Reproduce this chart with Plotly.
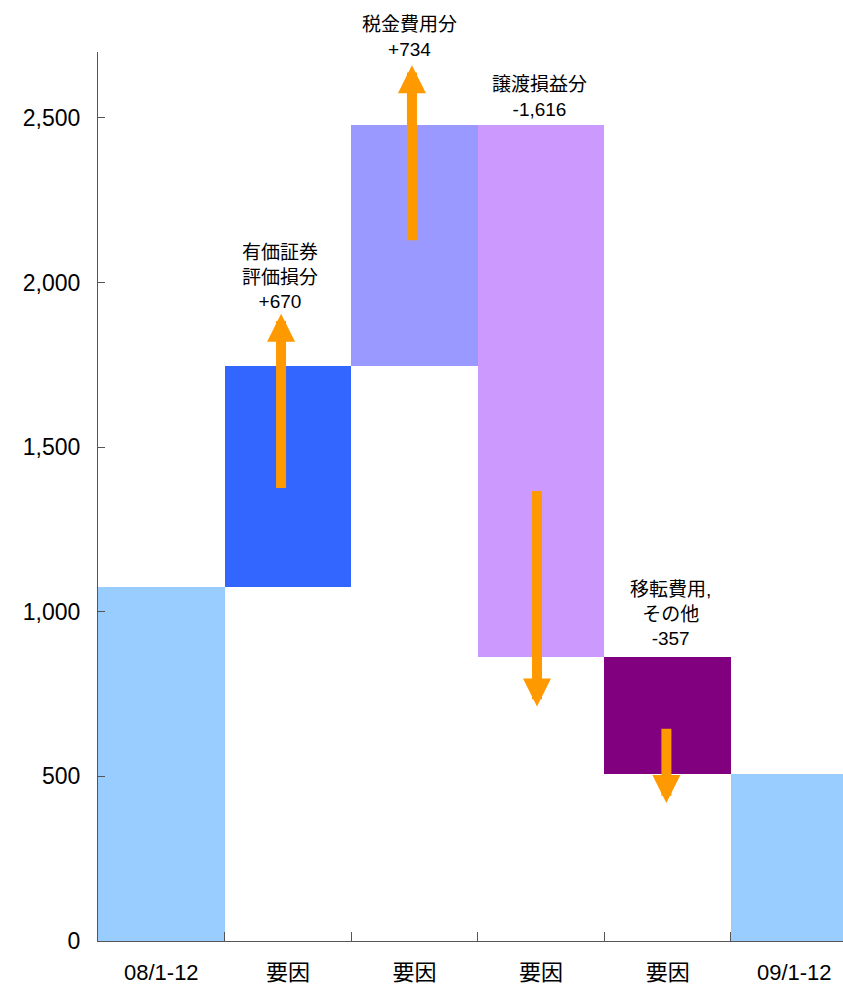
import plotly.graph_objects as go

# ---- data ----
categories = ["08/1-12", "要因", "要因", "要因", "要因", "09/1-12"]
start_value = 1075
changes = [670, 734, -1616, -357]
bar_colors = ["#99CCFF", "#3366FF", "#9999FF", "#CC99FF", "#800080", "#99CCFF"]
change_labels = ["有価証券<br>評価損分<br>+670", "税金費用分<br>+734", "譲渡損益分<br>-1,616", "移転費用,<br>その他<br>-357"]
y_tickvals = [0, 500, 1000, 1500, 2000, 2500]
y_ticktext = ["0", "500", "1,000", "1,500", "2,000", "2,500"]

# arrow positions (x index, tail y, tip y) and label anchors for each change
arrow_x = [0.946, 1.980, 2.968, 3.990]
arrow_tail = [1371, 2124, 1371, 649]
arrow_tip = [1905, 2660, 712, 419]
label_x = [0.94, 1.96, 2.99, 4.02]
label_y = [1905, 2670, 2488, 880]

# ---- build waterfall bars ----
bases = [0]
heights = [start_value]
level = start_value
for c in changes:
    bases.append(level)
    heights.append(c)
    level += c
bases.append(0)
heights.append(level)

xs = list(range(len(categories)))

fig = go.Figure()
fig.add_trace(go.Bar(
    x=xs, y=heights, base=bases, width=1,
    marker=dict(color=bar_colors, line=dict(width=0)),
    hoverinfo="skip", showlegend=False,
))

FONT = "Liberation Sans, Arial, Noto Sans CJK JP, sans-serif"

annotations = []
for i in range(len(changes)):
    annotations.append(dict(
        x=arrow_x[i], y=arrow_tip[i], ax=arrow_x[i], ay=arrow_tail[i],
        xref="x", yref="y", axref="x", ayref="y",
        text="", showarrow=True, arrowhead=2, arrowsize=0.56,
        arrowwidth=10, arrowcolor="#FF9900", standoff=0, startstandoff=0,
    ))
    annotations.append(dict(
        x=label_x[i], y=label_y[i], xref="x", yref="y",
        text=change_labels[i], showarrow=False, yanchor="bottom",
        xanchor="center", align="center",
        font=dict(family=FONT, size=19, color="#000000"),
    ))

fig.update_layout(
    width=843, height=987,
    margin=dict(l=98, r=0, t=52, b=46, autoexpand=False),
    paper_bgcolor="white", plot_bgcolor="white",
    annotations=annotations,
    bargap=0,
    xaxis=dict(
        range=[-0.5, 5.385], tickvals=xs, ticktext=categories, ticks="",
        showgrid=False, zeroline=False, showline=True, linecolor="#555555",
        linewidth=1, ticklabelstandoff=12, automargin=False,
        tickfont=dict(family=FONT, size=22, color="#000000"),
        minor=dict(tickvals=[0.5, 1.5, 2.5, 3.5, 4.5], ticks="inside",
                   ticklen=9, tickcolor="#555555", showgrid=False),
        fixedrange=True,
    ),
    yaxis=dict(
        range=[0, 2700], tickvals=y_tickvals, ticktext=y_ticktext,
        ticks="inside", ticklen=7, tickcolor="#555555",
        showgrid=False, zeroline=False, showline=True, linecolor="#555555",
        linewidth=1, ticklabelstandoff=12, automargin=False,
        tickfont=dict(family=FONT, size=23, color="#000000"),
        fixedrange=True,
    ),
)

fig.write_html("out.html")
